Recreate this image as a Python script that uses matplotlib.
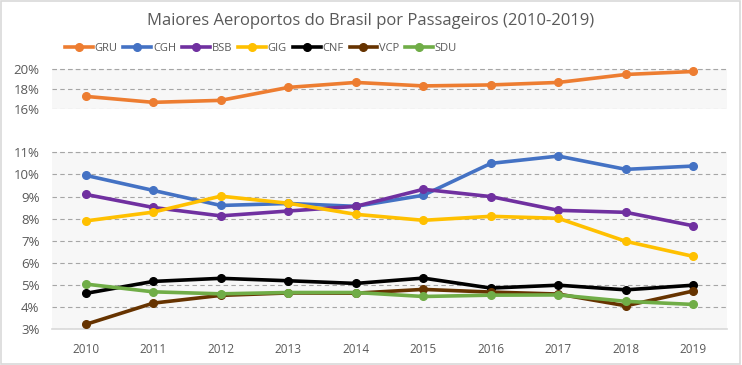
#!/usr/bin/env python

import matplotlib
matplotlib.use('Agg')
import matplotlib.pyplot as plt
from matplotlib.patches import Rectangle
from matplotlib.ticker import FuncFormatter

years = [2010, 2011, 2012, 2013, 2014, 2015, 2016, 2017, 2018, 2019]

gru = [17.3, 16.7, 16.9, 18.2, 18.7, 18.35, 18.45, 18.7, 19.5, 19.8]
cgh = [9.96, 9.28, 8.6, 8.69, 8.56, 9.06, 10.5, 10.83, 10.23, 10.38]
bsb = [9.1, 8.51, 8.13, 8.35, 8.56, 9.33, 9.0, 8.38, 8.29, 7.68]
gig = [7.9, 8.3, 9.02, 8.7, 8.2, 7.93, 8.11, 8.02, 6.98, 6.3]
cnf = [4.63, 5.17, 5.31, 5.2, 5.08, 5.32, 4.87, 5.0, 4.79, 5.0]
vcp = [3.23, 4.19, 4.54, 4.65, 4.64, 4.81, 4.69, 4.6, 4.07, 4.74]
sdu = [5.05, 4.7, 4.61, 4.67, 4.67, 4.49, 4.55, 4.56, 4.27, 4.13]

names = ['GRU', 'CGH', 'BSB', 'GIG', 'CNF', 'VCP', 'SDU']
colors = ['#ED7D31', '#4472C4', '#7030A0', '#FFC000', '#000000',
          '#663300', '#70AD47']

top_ticks = [16, 18, 20]
bottom_ticks = [3, 4, 5, 6, 7, 8, 9, 10, 11]

TEXT = '#595959'
GRID = '#a6a6a6'
BG = '#f7f7f7'


def style_axis(ax, ticks):
    ax.set_facecolor(BG)
    ax.set_xlim(2009.5, 2019.5)
    ax.set_ylim(ticks[0], ticks[-1])
    ax.set_yticks(ticks)
    ax.yaxis.set_major_formatter(FuncFormatter(lambda v, p: '%d%%' % v))
    ax.grid(axis='y', color=GRID, linestyle=(0, (4, 3)), linewidth=0.8)
    ax.set_axisbelow(True)
    for s in ax.spines.values():
        s.set_visible(False)
    ax.tick_params(axis='y', length=0, pad=9, labelsize=9.5,
                   labelcolor=TEXT)
    ax.tick_params(axis='x', length=0)


def main():
    plt.rcParams['font.family'] = ['Open Sans', 'DejaVu Sans']
    fig = plt.figure(figsize=(7.42, 3.65), dpi=100)

    ax_top = fig.add_axes([0.070, 0.7005, 0.910, 0.1091])
    ax_bot = fig.add_axes([0.070, 0.0973, 0.910, 0.4854])
    style_axis(ax_top, top_ticks)
    style_axis(ax_bot, bottom_ticks)
    # top gridlines sit on the axes edge, keep them visible
    ax_top.axhline(20, color=GRID, linestyle=(0, (4, 3)), linewidth=0.8,
                   clip_on=False, zorder=0.5)
    ax_bot.axhline(11, color=GRID, linestyle=(0, (4, 3)), linewidth=0.8,
                   clip_on=False, zorder=0.5)

    ax_top.set_xticks([])
    ax_bot.set_xticks(years)
    ax_bot.tick_params(axis='x', pad=10, labelsize=8.5, labelcolor=TEXT)
    ax_bot.spines['bottom'].set_visible(True)
    ax_bot.spines['bottom'].set_color('#d9d9d9')
    ax_bot.spines['bottom'].set_linewidth(1.2)

    series = [gru, cgh, bsb, gig, cnf, vcp, sdu]
    handles = []
    for name, values, color in zip(names, series, colors):
        ax = ax_top if name == 'GRU' else ax_bot
        line, = ax.plot(years, values, color=color, linewidth=2.6,
                        marker='o', markersize=5.5, label=name,
                        clip_on=False, zorder=3)
        handles.append(line)

    fig.legend(handles=handles, loc='center left',
               bbox_to_anchor=(0.074, 0.868), ncol=7, frameon=False,
               fontsize=8, handlelength=2.5, handletextpad=0.15,
               columnspacing=0.55, labelcolor=TEXT)

    fig.text(0.5, 0.942, 'Maiores Aeroportos do Brasil por Passageiros '
             '(2010-2019)', ha='center', va='center', fontsize=12,
             color=TEXT)

    fig.patches.append(Rectangle((0.002, 0.003), 0.995, 0.994,
                                 transform=fig.transFigure, fill=False,
                                 edgecolor='#d9d9d9', linewidth=1.2))

    fig.savefig('out.png', dpi=100)
    plt.close(fig)


if __name__ == "__main__":
    main()
